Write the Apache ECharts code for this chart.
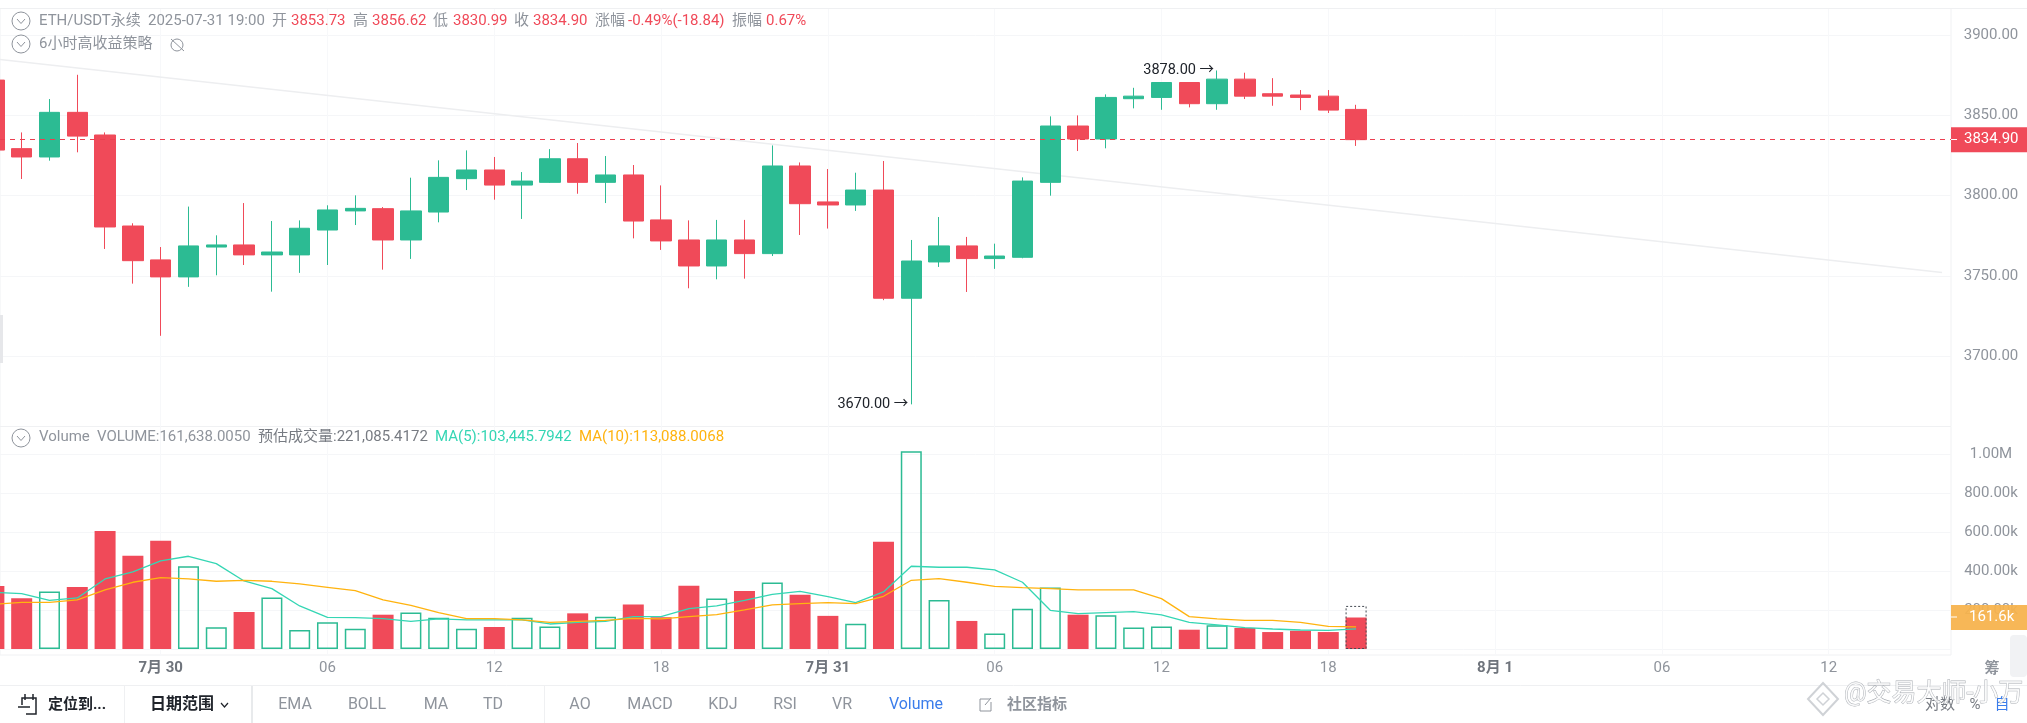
<!DOCTYPE html>
<html><head><meta charset="utf-8">
<style>html,body{margin:0;padding:0;background:#fff}#c{width:2027px;height:723px}</style>
<script src="https://cdn.jsdelivr.net/npm/echarts@6/dist/echarts.min.js"></script>
</head><body><div id="c"></div>
<script>
const hourIndex = [0,1,2,3,4,5,6,7,8,9,10,11,12,13,14,15,16,17,18,19,20,21,22,23,24,25,26,27,28,29,30,31,32,33,34,35,36,37,38,39,40,41,42,43,44,45,46,47,48,49];
const opens = [3872.0,3829.3,3824.1,3851.9,3837.8,3781.1,3760.0,3749.4,3768.0,3769.3,3763.1,3763.1,3778.6,3790.5,3791.9,3772.4,3789.8,3810.6,3816.0,3806.6,3808.3,3823.0,3808.3,3812.9,3784.9,3772.4,3756.2,3772.4,3763.9,3818.5,3796.1,3794.2,3803.5,3736.1,3758.7,3768.7,3760.8,3761.6,3808.3,3843.4,3835.3,3860.4,3861.2,3870.5,3857.3,3872.6,3863.5,3862.7,3862.0,3853.73];
const closes = [3828.4,3824.1,3851.9,3837.1,3780.5,3759.5,3749.4,3768.7,3769.3,3763.1,3764.9,3779.7,3791.1,3792.1,3772.4,3790.5,3811.4,3816.0,3806.6,3809.1,3823.0,3808.3,3812.9,3784.2,3771.8,3756.2,3772.4,3763.9,3818.5,3795.0,3794.2,3803.5,3736.1,3759.3,3768.7,3760.8,3762.4,3809.1,3843.4,3835.3,3861.2,3862.0,3870.5,3857.3,3872.6,3862.0,3862.0,3861.2,3853.3,3834.90];
const lows = [3828.4,3810.4,3821.8,3827.0,3766.8,3745.2,3712.7,3743.2,3750.4,3756.8,3740.2,3751.9,3756.8,3781.7,3753.9,3760.6,3783.4,3803.5,3797.5,3785.5,3807.9,3801.2,3795.4,3773.4,3766.2,3742.3,3747.9,3748.3,3762.4,3775.5,3779.5,3790.5,3734.9,3670.0,3755.6,3740.0,3754.4,3761.0,3800.0,3827.8,3829.5,3854.4,3853.5,3855.0,3853.5,3860.2,3856.0,3853.3,3851.5,3830.99];
const highs = [3872.0,3839.4,3860.2,3875.3,3839.4,3782.8,3768.0,3793.2,3775.3,3795.4,3784.2,3784.6,3794.0,3800.2,3792.9,3811.2,3822.0,3828.2,3824.1,3814.7,3829.0,3832.8,3824.7,3819.1,3806.4,3784.6,3784.9,3784.9,3831.3,3820.7,3816.6,3814.3,3821.6,3772.4,3786.7,3774.3,3770.1,3811.4,3849.4,3850.0,3863.1,3867.2,3870.5,3870.5,3878.0,3876.6,3873.2,3865.8,3865.8,3856.62];
const volumes = [323600,260000,294500,318500,606000,478000,555000,425000,111000,190000,264000,98000,137000,104000,176000,187000,161000,104000,113000,161000,116000,183000,166000,229000,163000,324000,259000,298000,341000,279000,170000,130000,550000,1015000,252000,144000,79000,207000,315000,176000,173000,110000,115000,99000,122000,108000,87000,94000,87000,161638];
const ma5 = [291100,284200,250000,262000,359600,395500,452000,476000,438400,349300,309900,220900,162700,161000,155800,142100,154100,149000,149000,149000,128400,137000,142100,166100,166100,207200,220900,250000,280800,296200,268800,238000,292800,424700,419500,419500,405800,342500,198600,181500,186600,191800,174700,137000,123300,109600,102700,97600,95900,103446];
const ma10 = [229500,239700,239700,251700,303100,342500,366400,359600,347600,352700,347600,333900,316800,299700,251700,224300,186600,155800,155800,149000,137000,142100,147300,157500,154100,166100,176400,200300,226000,232900,238000,232900,270500,352700,361300,342500,321900,315100,309900,303100,303100,303100,258600,166100,154100,147300,147300,137000,116400,113088];
const estimatedVolume = 221085;
const trendX = [0.22,70.08];
const trendY = [3884.9,3752.1];
const lastPrice = 3834.90;
const lastVolume = 161638;
const xTickValues = [6,12,18,24,30,36,42,48,54,60,66];
const xTickLabels = ['7月 30','06','12','18','7月 31','06','12','18','8月 1','06','12'];
const priceTicks = [3700,3750,3800,3850,3900];
const volumeTicks = [0,200000,400000,600000,800000,1000000];
const volumeLabelTicks = [200000,400000,600000,800000,1000000];
const volumeTickLabels = ['200.00k','400.00k','600.00k','800.00k','1.00M'];

const RED='#F04A59', GREEN='#2CBB93', GRAY='#8F949C', GRID='#F5F6F8', TEAL='#35D6B4', ORANGE='#FFB30F';
const FONT='Roboto, "Noto Sans CJK SC", sans-serif';

const candleData = hourIndex.map((x,i)=>[x,opens[i],closes[i],lows[i],highs[i]]);
const volumeData = hourIndex.map((x,i)=>({
  value:[x,volumes[i]],
  itemStyle: closes[i]>=opens[i] ? {color:'rgba(255,255,255,0)',borderColor:GREEN,borderWidth:1.5} : {color:RED,borderWidth:0}
}));
const estData = [{value:[hourIndex[hourIndex.length-1],estimatedVolume]}];

function T(x,y,text,o){return Object.assign({type:'text',silent:true,z:50,x:x,y:y,style:Object.assign({text:text,fill:GRAY,font:'15px '+FONT,textVerticalAlign:'middle',textAlign:'left'},o||{})});}
function SL(x1,y1,x2,y2,c,w,z){return {type:'line',silent:true,z:z||50,shape:{x1,y1,x2,y2},style:{stroke:c||'#EFF0F2',lineWidth:w||1}};}
function chevronCircle(cx,cy){return [
 {type:'circle',silent:true,z:50,shape:{cx,cy,r:9},style:{fill:'#fff',stroke:GRAY,lineWidth:1}},
 {type:'polyline',silent:true,z:50,shape:{points:[[cx-4,cy-2],[cx,cy+2.5],[cx+4,cy-2]]},style:{fill:'none',stroke:GRAY,lineWidth:1}}
];}
const B='bold 15px '+FONT;
const graphics = [
 SL(0,8.5,2027,8.5), SL(0,685.5,2027,685.5),
 ...chevronCircle(21,21), ...chevronCircle(21,44), ...chevronCircle(21,438),
 T(39,21,'ETH/USDT永续'), T(148,21,'2025-07-31 19:00'),
 T(272,21,'开'),T(291,21,'3853.73',{fill:RED}),T(353,21,'高'),T(372,21,'3856.62',{fill:RED}),
 T(433,21,'低'),T(453,21,'3830.99',{fill:RED}),T(514,21,'收'),T(533,21,'3834.90',{fill:RED}),
 T(595,21,'涨幅'),T(628,21,'-0.49%(-18.84)',{fill:RED}),T(732,21,'振幅'),T(766,21,'0.67%',{fill:RED}),
 T(39,44,'6小时高收益策略'),
 {type:'circle',silent:true,z:50,shape:{cx:177,cy:45,r:6},style:{fill:'none',stroke:GRAY,lineWidth:1}},
 SL(171,39,184,51,GRAY,1),
 T(39,437,'Volume'),T(97,437,'VOLUME:161,638.0050'),T(258,437,'预估成交量:221,085.4172',{fill:'#777B82'}),
 T(435,437,'MA(5):103,445.7942',{fill:TEAL}),T(579,437,'MA(10):113,088.0068',{fill:ORANGE}),
 {type:'rect',silent:true,z:50,shape:{x:0,y:315,width:3,height:48},style:{fill:'#E6E7EA'}},
 {type:'rect',silent:true,z:1,shape:{x:2010,y:635,width:17,height:42,r:4},style:{fill:'#F1F2F4'}},
 T(1992,669,'筹',{textAlign:'center',font:'bold 15px '+FONT}),
 SL(1951,139.5,1957,139.5,'#fff',1,60), SL(1951,617,1957,617,'#fff',1,60),
 // toolbar
 SL(124.5,686,124.5,723), SL(252,686,252,723,'#E1E3E6',1.5), SL(544.5,686,544.5,723),
 {type:'polyline',silent:true,z:50,shape:{points:[[22,705],[22,698],[36,698],[36,714],[26,714]]},style:{fill:'none',stroke:'#20242B',lineWidth:1.5}},
 SL(18,707,30,707,'#20242B',1.5), SL(25,694,25,700,'#20242B',1.5), SL(33,694,33,700,'#20242B',1.5),
 T(48,705,'定位到...',{font:B,fill:'#20242B'}), T(150,705,'日期范围',{font:'bold 16px '+FONT,fill:'#20242B'}),
 {type:'polyline',silent:true,z:50,shape:{points:[[221,703],[224.5,707],[228,703]]},style:{fill:'none',stroke:'#20242B',lineWidth:1.2}},
 ...[['EMA',295],['BOLL',367],['MA',436],['TD',493],['AO',580],['MACD',650],['KDJ',723],['RSI',785],['VR',842]].map(a=>T(a[1],705,a[0],{textAlign:'center',font:'16px '+FONT})),
 T(916,705,'Volume',{textAlign:'center',fill:'#3B7DEB',font:'16px '+FONT}),
 {type:'polyline',silent:true,z:50,shape:{points:[[990,699],[980,699],[980,711],[991,711],[991,702]]},style:{fill:'none',stroke:GRAY,lineWidth:1}},
 SL(985,705,991,698,GRAY,1),
 T(1037,705,'社区指标',{textAlign:'center',font:B}),
 T(1940,705,'对数',{textAlign:'center',fill:'#777B82'}),T(1975,705,'%',{textAlign:'center',fill:'#777B82'}),T(2002,705,'自',{textAlign:'center',fill:'#3B7DEB'}),
 // watermark
 {type:'polygon',silent:true,z:55,shape:{points:[[1823,683],[1838,699],[1823,715],[1808,699]]},style:{fill:'rgba(255,255,255,0.6)',stroke:'#CFD2D6',lineWidth:2}},
 {type:'polygon',silent:true,z:55,shape:{points:[[1823,693],[1829,699],[1823,705],[1817,699]]},style:{fill:'#fff',stroke:'#CFD2D6',lineWidth:1.5}},
 T(1844,695,'@交易大师-小万',{font:'25px '+FONT,fill:'rgba(255,255,255,0.75)',stroke:'#A9ADB3',lineWidth:0.8})
];

const chart = echarts.init(document.getElementById('c'),null,{renderer:'canvas'});
const xCommon = {type:'value',min:0.22,max:70.4,axisLine:{show:false},axisTick:{show:false,customValues:xTickValues},
  splitLine:{show:true,lineStyle:{color:'#F7F8FA',width:1}}};
chart.setOption({
  animation:false,backgroundColor:'#fff',textStyle:{fontFamily:FONT},
  grid:[
    {left:0,top:8.5,width:1951,height:418,show:true,borderColor:'#F0F1F3',borderWidth:1,backgroundColor:'transparent'},
    {left:0,top:426.5,width:1951,height:228.5,show:true,borderColor:'#F0F1F3',borderWidth:1,backgroundColor:'transparent'}
  ],
  xAxis:[
    Object.assign({gridIndex:0,axisLabel:{show:false}},xCommon),
    Object.assign({gridIndex:1,axisLabel:{show:true,customValues:xTickValues,margin:6,fontFamily:FONT,fontSize:15,color:GRAY,
      formatter:v=>{const l=xTickLabels[xTickValues.indexOf(v)];return l&&l.indexOf('月')>=0?'{b|'+l+'}':l;},
      rich:{b:{fontFamily:FONT,fontSize:15,fontWeight:'bold',color:'#6F747C'}}}},xCommon)
  ],
  yAxis:[
    {gridIndex:0,type:'value',position:'right',min:3656.2,max:3916.6,axisLine:{show:false},
     axisTick:{show:false,customValues:priceTicks},splitLine:{show:true,lineStyle:{color:GRID}},
     axisLabel:{customValues:priceTicks,align:'center',margin:40,fontFamily:FONT,fontSize:15,color:GRAY,formatter:v=>v.toFixed(2)}},
    {gridIndex:1,type:'value',position:'right',min:-30822,max:1142000,axisLine:{show:false},
     axisTick:{show:false,customValues:volumeTicks},splitLine:{show:true,lineStyle:{color:GRID}},
     axisLabel:{customValues:volumeLabelTicks,align:'center',margin:40,fontFamily:FONT,fontSize:15,color:GRAY,
       formatter:v=>volumeTickLabels[volumeLabelTicks.indexOf(v)]}}
  ],
  series:[
    {type:'line',name:'trend',xAxisIndex:0,yAxisIndex:0,data:trendX.map((x,i)=>[x,trendY[i]]),symbol:'none',
     lineStyle:{color:'#EDEEF0',width:1.5},z:1},
    {type:'candlestick',name:'ETH',xAxisIndex:0,yAxisIndex:0,data:candleData,barWidth:21,z:3,
     encode:{x:0,y:[1,2,3,4]},
     itemStyle:{color:GREEN,color0:RED,borderColor:GREEN,borderColor0:RED,borderWidth:1},
     markLine:{silent:true,symbol:'none',animation:false,z:5,
       lineStyle:{color:'#EC3F50',type:[5,5],width:1.2},
       label:{show:true,position:'end',distance:0,formatter:lastPrice.toFixed(2),color:'#fff',fontFamily:FONT,fontSize:15,
         backgroundColor:RED,padding:[5,10,5,13]},
       data:[{yAxis:lastPrice}]},
     markPoint:{silent:true,symbol:'circle',symbolSize:0,animation:false,
       label:{show:true,position:'left',distance:3,color:'#20242B',fontFamily:FONT,fontSize:14.5,formatter:p=>p.name},
       data:[{name:'3878.00 →',coord:[44,3878.0]},{name:'3670.00 →',coord:[33,3670.0]}]}},
    {type:'bar',name:'vol',xAxisIndex:1,yAxisIndex:1,data:volumeData,barWidth:21,barGap:'-100%',z:2,
     markLine:{silent:true,symbol:'none',animation:false,z:5,lineStyle:{color:'rgba(0,0,0,0)',width:0},
       label:{show:true,position:'end',distance:0,formatter:'161.6k',color:'#fff',fontFamily:FONT,fontSize:15,
         backgroundColor:'rgba(246,178,76,0.94)',padding:[5,18,5,18]},
       data:[{yAxis:lastVolume}]}},
    {type:'bar',name:'est',xAxisIndex:1,yAxisIndex:1,data:estData,barWidth:21,barGap:'-100%',z:2,
     itemStyle:{color:'rgba(255,255,255,0)',borderColor:'#444A52',borderWidth:1,borderType:[2,2]}},
    {type:'line',name:'ma5',xAxisIndex:1,yAxisIndex:1,data:hourIndex.map((x,i)=>[x,ma5[i]]),symbol:'none',lineStyle:{color:TEAL,width:1.3},z:4},
    {type:'line',name:'ma10',xAxisIndex:1,yAxisIndex:1,data:hourIndex.map((x,i)=>[x,ma10[i]]),symbol:'none',lineStyle:{color:ORANGE,width:1.3},z:4}
  ],
  graphic:graphics
});
</script></body></html>
